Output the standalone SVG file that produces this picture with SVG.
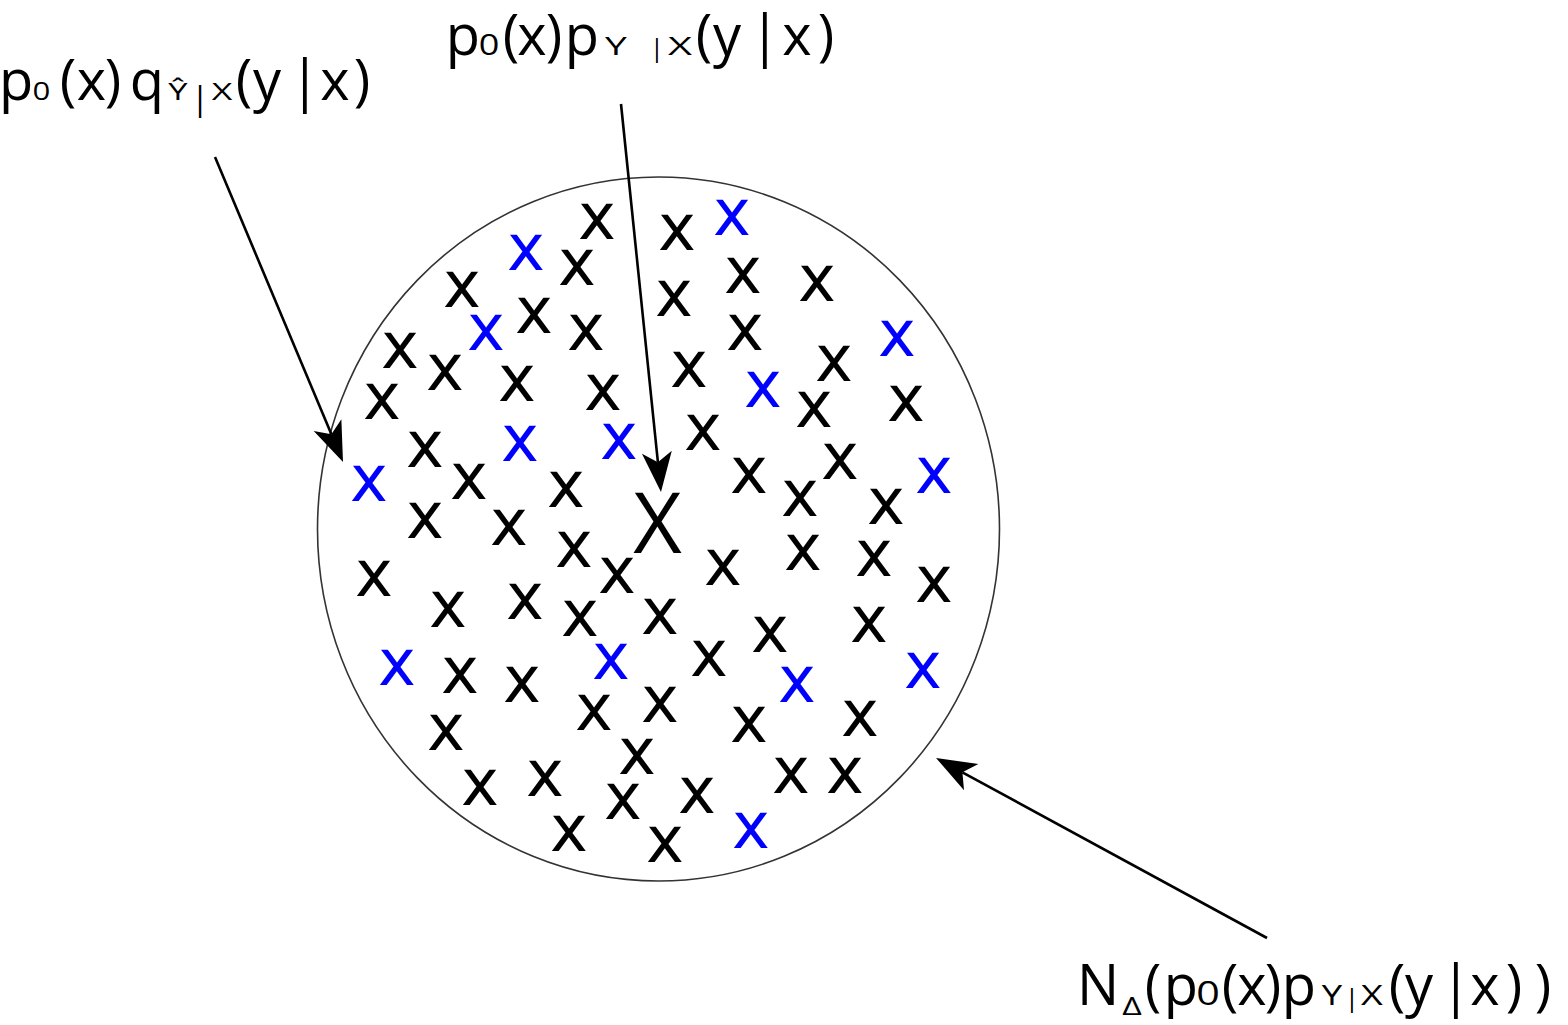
<svg xmlns="http://www.w3.org/2000/svg" width="1568" height="1025" viewBox="0 0 1568 1025">
<style>
.m{font-family:"DejaVu Sans",sans-serif;font-size:64px;text-anchor:middle}
.k{fill:#000}
.b{fill:#0000ff}
.big{font-family:"Open Sans",sans-serif;font-size:84px;text-anchor:middle;fill:#000}
.lab{font-family:"Open Sans",sans-serif;font-size:56px;text-anchor:middle;fill:#000}
.sub{font-family:"Open Sans",sans-serif;text-anchor:middle;fill:#000}
.conn{fill:none;stroke:#000;stroke-width:2.6}
</style>
<defs>
<marker id="ah" markerUnits="userSpaceOnUse" markerWidth="44" markerHeight="34" viewBox="-2 -17 44 34" refX="10" refY="0" orient="auto">
<path d="M40,0 L0,-15 L10,0 L0,15 Z" fill="#000"/>
</marker>
</defs>
<rect width="1568" height="1025" fill="#fff"/>
<g id="circle">
<ellipse cx="658.5" cy="529" rx="341" ry="352" fill="none" stroke="#333" stroke-width="1.6"/>
</g>
<g id="marks">
<text class="m k" x="597" y="238.5">x</text>
<text class="m k" x="677" y="249.5">x</text>
<text class="m k" x="577" y="284.5">x</text>
<text class="m k" x="462" y="306.5">x</text>
<text class="m k" x="534" y="332.5">x</text>
<text class="m k" x="674" y="315.5">x</text>
<text class="m k" x="743" y="292.5">x</text>
<text class="m k" x="817" y="300.5">x</text>
<text class="m k" x="586" y="349.5">x</text>
<text class="m k" x="745" y="349.5">x</text>
<text class="m k" x="400" y="367.5">x</text>
<text class="m k" x="445" y="389.5">x</text>
<text class="m k" x="517" y="400.5">x</text>
<text class="m k" x="603" y="409.5">x</text>
<text class="m k" x="689" y="386.5">x</text>
<text class="m k" x="834" y="380.5">x</text>
<text class="m k" x="814" y="426.5">x</text>
<text class="m k" x="906" y="420.5">x</text>
<text class="m k" x="382" y="418.5">x</text>
<text class="m k" x="425" y="466.5">x</text>
<text class="m k" x="703" y="449.5">x</text>
<text class="m k" x="749" y="492.5">x</text>
<text class="m k" x="840" y="478.5">x</text>
<text class="m k" x="469" y="498.5">x</text>
<text class="m k" x="566" y="506.5">x</text>
<text class="m k" x="800" y="515.5">x</text>
<text class="m k" x="886" y="523.5">x</text>
<text class="m k" x="425" y="537.5">x</text>
<text class="m k" x="509" y="544.5">x</text>
<text class="m k" x="374" y="595.5">x</text>
<text class="m k" x="574" y="566.5">x</text>
<text class="m k" x="617" y="592.5">x</text>
<text class="m k" x="723" y="584.5">x</text>
<text class="m k" x="803" y="569.5">x</text>
<text class="m k" x="874" y="575.5">x</text>
<text class="m k" x="934" y="601.5">x</text>
<text class="m k" x="448" y="626.5">x</text>
<text class="m k" x="525" y="618.5">x</text>
<text class="m k" x="580" y="635.5">x</text>
<text class="m k" x="660" y="633.5">x</text>
<text class="m k" x="770" y="651.5">x</text>
<text class="m k" x="869" y="641.5">x</text>
<text class="m k" x="460" y="692.5">x</text>
<text class="m k" x="522" y="701.5">x</text>
<text class="m k" x="709" y="675.5">x</text>
<text class="m k" x="446" y="749.5">x</text>
<text class="m k" x="594" y="729.5">x</text>
<text class="m k" x="660" y="721.5">x</text>
<text class="m k" x="749" y="741.5">x</text>
<text class="m k" x="860" y="735.5">x</text>
<text class="m k" x="637" y="773.5">x</text>
<text class="m k" x="480" y="804.5">x</text>
<text class="m k" x="545" y="795.5">x</text>
<text class="m k" x="623" y="818.5">x</text>
<text class="m k" x="697" y="812.5">x</text>
<text class="m k" x="791" y="792.5">x</text>
<text class="m k" x="845" y="792.5">x</text>
<text class="m k" x="569" y="850.5">x</text>
<text class="m k" x="665" y="861.5">x</text>
<text class="m b" x="526" y="269.5">x</text>
<text class="m b" x="732" y="234.5">x</text>
<text class="m b" x="486" y="349.5">x</text>
<text class="m b" x="897" y="355.5">x</text>
<text class="m b" x="763" y="406.5">x</text>
<text class="m b" x="520" y="460.5">x</text>
<text class="m b" x="619" y="458.5">x</text>
<text class="m b" x="934" y="492.5">x</text>
<text class="m b" x="369" y="500.5">x</text>
<text class="m b" x="397" y="684.5">x</text>
<text class="m b" x="611" y="678.5">x</text>
<text class="m b" x="797" y="701.5">x</text>
<text class="m b" x="923" y="687.5">x</text>
<text class="m b" x="751" y="847.5">x</text>
</g>
<g id="center-point">
<text class="big" x="657.5" y="553">X</text>
</g>
<g id="label-q">
<text class="lab" y="100"><tspan x="16">p</tspan><tspan x="68">(</tspan><tspan x="91.5">x</tspan><tspan x="113">)</tspan><tspan x="147">q</tspan><tspan x="200" y="110" style="font-size:33px">|</tspan><tspan x="244" y="100">(</tspan><tspan x="267">y</tspan><tspan x="305">|</tspan><tspan x="335">x</tspan><tspan x="362">)</tspan></text>
<text class="sub" transform="translate(41.5,100) scale(1.2,1)" font-size="26">0</text>
<text class="sub" transform="translate(178,100) scale(1.5,1)" font-size="23">Ŷ</text>
<text class="sub" transform="translate(222,100) scale(1.55,1)" font-size="23">X</text>
</g>
<g id="label-p">
<text class="lab" y="55"><tspan x="463">p</tspan><tspan x="511">(</tspan><tspan x="532">x</tspan><tspan x="554">)</tspan><tspan x="582">p</tspan><tspan x="657" y="57" style="font-size:26px">|</tspan><tspan x="704" y="55">(</tspan><tspan x="727">y</tspan><tspan x="765">|</tspan><tspan x="797">x</tspan><tspan x="826">)</tspan></text>
<text class="sub" transform="translate(489,55) scale(1.2,1)" font-size="30">0</text>
<text class="sub" transform="translate(616,55) scale(1.5,1)" font-size="26">Y</text>
<text class="sub" transform="translate(680,55) scale(1.6,1)" font-size="26">X</text>
</g>
<g id="label-n">
<text class="lab" y="1005"><tspan x="1098">N</tspan><tspan x="1153">(</tspan><tspan x="1181">p</tspan><tspan x="1230">(</tspan><tspan x="1252">x</tspan><tspan x="1273">)</tspan><tspan x="1299">p</tspan><tspan x="1352" y="1007" style="font-size:26px">|</tspan><tspan x="1397" y="1005">(</tspan><tspan x="1419">y</tspan><tspan x="1456">|</tspan><tspan x="1485">x</tspan><tspan x="1514">)</tspan><tspan x="1543">)</tspan></text>
<text class="sub" transform="translate(1132,1015) scale(1.3,1)" font-size="26">Δ</text>
<text class="sub" transform="translate(1208,1005) scale(1.25,1)" font-size="33">0</text>
<text class="sub" transform="translate(1332,1005) scale(1.35,1)" font-size="27">Y</text>
<text class="sub" transform="translate(1372,1005) scale(1.4,1)" font-size="27">X</text>
</g>
<g id="connectors">
<path class="conn" d="M621,104 L657.9,462.2" marker-end="url(#ah)"/>
<path class="conn" d="M215,157 L331.4,434.3" marker-end="url(#ah)"/>
<path class="conn" d="M1267,938 L962.4,772.3" marker-end="url(#ah)"/>
</g>
</svg>
